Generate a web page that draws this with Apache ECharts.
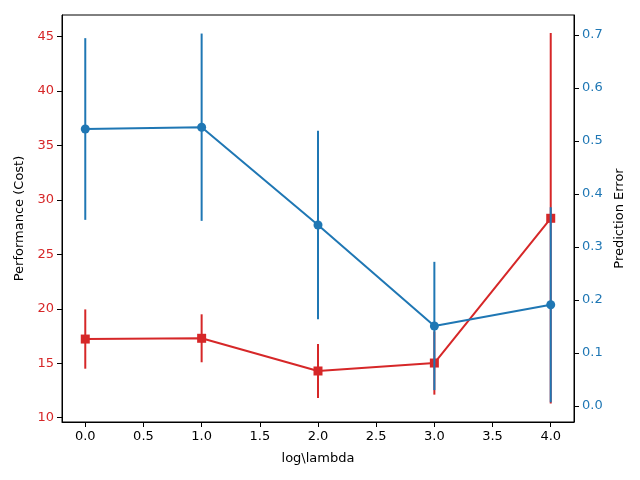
<!DOCTYPE html>
<html>
<head>
<meta charset="utf-8">
<script src="https://cdn.jsdelivr.net/npm/echarts@6/dist/echarts.min.js"></script>
<style>html,body{margin:0;padding:0;background:#fff}#c{width:640px;height:480px}</style>
</head>
<body>
<div id="c"></div>
<script>
var xValues = [0, 1, 2, 3, 4];
var costMean = [17.22, 17.29, 14.29, 15.02, 28.30];
var costErr = [2.72, 2.20, 2.48, 2.90, 17.00];
var errMean = [0.5226, 0.526, 0.3415, 0.151, 0.191];
var errErr = [0.1714, 0.1767, 0.178, 0.121, 0.184];
var xTicks = [0, 0.5, 1, 1.5, 2, 2.5, 3, 3.5, 4];
var leftTicks = [10, 15, 20, 25, 30, 35, 40, 45];
var rightTicks = [0, 0.1, 0.2, 0.3, 0.4, 0.5, 0.6, 0.7];

var RED = '#d62728', BLUE = '#1f77b4';
var FONT = 'DejaVu Sans';

function pts(means) { return xValues.map(function (x, i) { return [x, means[i]]; }); }
function bars(means, errs) { return xValues.map(function (x, i) { return [x, means[i] - errs[i], means[i] + errs[i]]; }); }

function errRender(color) {
  return function (params, api) {
    var p1 = api.coord([api.value(0), api.value(1)]);
    var p2 = api.coord([api.value(0), api.value(2)]);
    return { type: 'line', shape: { x1: p1[0], y1: p1[1], x2: p2[0], y2: p2[1] },
      style: { stroke: color, lineWidth: 2 } };
  };
}

function yAxis(min, max, ticks, color, name, gap, digits, pos) {
  return {
    type: 'value', position: pos, min: min, max: max,
    name: name, nameLocation: 'middle', nameGap: gap,
    nameTextStyle: { color: '#000', fontFamily: FONT, fontSize: 13 },
    axisLine: { show: true, onZero: false, lineStyle: { color: '#000', width: 1 } },
    axisTick: { show: true, inside: false, length: 5, customValues: ticks, lineStyle: { color: '#000', width: 1 } },
    axisLabel: { customValues: ticks, color: color, fontFamily: FONT, fontSize: 13, margin: 8,
      formatter: function (v) { return v.toFixed(digits); } },
    splitLine: { show: false }
  };
}

var chart = echarts.init(document.getElementById('c'), null, { renderer: 'canvas' });
chart.setOption({
  animation: false,
  backgroundColor: '#fff',
  grid: { left: 62, right: 66, top: 15, bottom: 58, show: true, borderColor: '#000', borderWidth: 1, backgroundColor: 'transparent' },
  xAxis: {
    type: 'value', min: -0.2, max: 4.2,
    name: 'log\\lambda', nameLocation: 'middle', nameGap: 30,
    nameTextStyle: { color: '#000', fontFamily: FONT, fontSize: 13 },
    axisLine: { show: true, onZero: false, lineStyle: { color: '#000', width: 1 } },
    axisTick: { show: true, length: 5, customValues: xTicks, lineStyle: { color: '#000', width: 1 } },
    axisLabel: { customValues: xTicks, color: '#000', fontFamily: FONT, fontSize: 13, margin: 8,
      formatter: function (v) { return v.toFixed(1); } },
    splitLine: { show: false }
  },
  yAxis: [
    yAxis(9.61, 46.95, leftTicks, RED, 'Performance (Cost)', 33, 0, 'left'),
    yAxis(-0.0302, 0.7377, rightTicks, BLUE, 'Prediction Error', 36, 1, 'right')
  ],
  series: [
    { type: 'custom', yAxisIndex: 0, z: 2, renderItem: errRender(RED), data: bars(costMean, costErr), encode: { x: 0, y: [1, 2] } },
    { type: 'line', yAxisIndex: 0, z: 3, data: pts(costMean), symbol: 'rect', symbolSize: 9,
      itemStyle: { color: RED }, lineStyle: { color: RED, width: 2 } },
    { type: 'custom', yAxisIndex: 1, z: 4, renderItem: errRender(BLUE), data: bars(errMean, errErr), encode: { x: 0, y: [1, 2] } },
    { type: 'line', yAxisIndex: 1, z: 5, data: pts(errMean), symbol: 'circle', symbolSize: 9,
      itemStyle: { color: BLUE }, lineStyle: { color: BLUE, width: 2 } }
  ]
});
</script>
</body>
</html>
